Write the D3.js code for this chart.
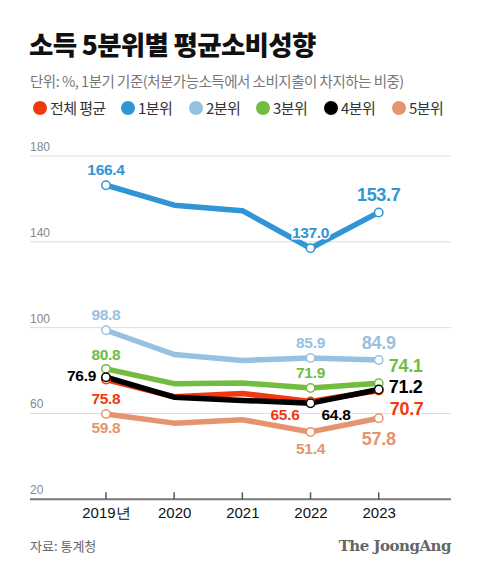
<!DOCTYPE html>
<html><head><meta charset="utf-8">
<script src="https://cdn.jsdelivr.net/npm/d3@7"></script>
<style>
body{margin:0;background:#fff;}
svg{display:block;}
</style></head>
<body>
<script>
const years = [2019, 2020, 2021, 2022, 2023];
const yearLabels = ["2019년", "2020", "2021", "2022", "2023"];
const yTicks = [20, 60, 100, 140, 180];
const seriesNames = ["전체 평균", "1분위", "2분위", "3분위", "4분위", "5분위"];
const seriesColors = ["#f2380f", "#2f95d6", "#97c1e0", "#72bd3f", "#000000", "#e6946f"];
const avgValues = [75.8, 67.8, 69.3, 65.6, 70.7];
const q1Values = [166.4, 157.1, 154.5, 137.0, 153.7];
const q2Values = [98.8, 87.5, 84.7, 85.9, 84.9];
const q3Values = [80.8, 73.9, 74.2, 71.9, 74.1];
const q4Values = [76.9, 67.6, 66.1, 64.8, 71.2];
const q5Values = [59.8, 55.5, 57.1, 51.4, 57.8];
const allValues = [avgValues, q1Values, q2Values, q3Values, q4Values, q5Values];
// label placement per series per point: [dx, dy, anchor] or null
const labelPos = [
  [[0, 20, "middle"], null, null, [-11, 14, "end"], [11, 19.5, "start"]],
  [[0, -14, "middle"], null, null, [0, -14, "middle"], [0, -16, "middle"]],
  [[0, -14, "middle"], null, null, [0, -14, "middle"], [0, -16, "middle"]],
  [[0, -13, "middle"], null, null, [0, -14, "middle"], [10, -16, "start"]],
  [[-10, 0, "end"], null, null, [11, 13, "start"], [10, -1, "start"]],
  [[0, 15, "middle"], null, null, [0, 18, "middle"], [0, 22, "middle"]]
];
const drawOrder = [5, 2, 1, 3, 0, 4];

const W = 480, H = 574;
const svg = d3.select("body").append("svg").attr("width", W).attr("height", H);

const x = d3.scaleLinear().domain([2017.886, 2024.06]).range([30, 451]);
const y = d3.scaleLinear().domain([20, 180]).range([499.3, 156]);

// title
svg.append("text").attr("x", 29).attr("y", 55)
  .style("font-family", "'Noto Sans CJK KR'").style("font-weight", 900)
  .style("font-size", "26.5px").style("letter-spacing", "-0.7px").attr("fill", "#111")
  .text("소득 5분위별 평균소비성향");
svg.append("text").attr("x", 30).attr("y", 87)
  .style("font-family", "'Noto Sans CJK KR'").style("font-size", "14.5px")
  .style("letter-spacing", "-0.5px").attr("fill", "#777")
  .text("단위: %, 1분기 기준(처분가능소득에서 소비지출이 차지하는 비중)");

// legend
const legX = [40, 128, 196, 263, 331, 399];
const leg = svg.append("g");
seriesNames.forEach((n, i) => {
  leg.append("circle").attr("cx", legX[i]).attr("cy", 108).attr("r", 7).attr("fill", seriesColors[i]);
  leg.append("text").attr("x", legX[i] + 10).attr("y", 113.5)
    .style("font-family", "'Noto Sans CJK KR'").style("font-size", "15px")
    .style("letter-spacing", "-0.6px").attr("fill", "#333").text(n);
});

// grid
const g = svg.append("g");
yTicks.forEach(t => {
  if (t !== 20) {
    g.append("line").attr("x1", 30).attr("x2", 451).attr("y1", y(t)).attr("y2", y(t))
      .attr("stroke", "#dcdcdc").attr("stroke-width", 1);
  }
  g.append("text").attr("x", 30).attr("y", y(t) - 5)
    .style("font-family", "'Liberation Sans', Arial").style("font-size", "12px")
    .attr("fill", "#888").text(t);
});

// x axis
const xAxis = d3.axisBottom(x).tickValues(years).tickSize(0).tickFormat((d, i) => yearLabels[i]);
const ax = svg.append("g").attr("transform", `translate(0,${y(20)})`).call(xAxis);
ax.select(".domain").remove();
ax.selectAll("text").attr("dy", null).attr("y", 19)
  .style("font-family", "'Liberation Sans', Arial").style("font-size", "15px")
  .attr("fill", "#111");
svg.append("line").attr("x1", 30).attr("x2", 451).attr("y1", y(20)).attr("y2", y(20))
  .attr("stroke", "#777").attr("stroke-width", 2);
years.forEach(yr => {
  svg.append("line").attr("x1", x(yr)).attr("x2", x(yr)).attr("y1", y(20) - 7).attr("y2", y(20))
    .attr("stroke", "#555").attr("stroke-width", 1.5);
});

// lines
const line = d3.line().x((d, i) => x(years[i])).y(d => y(d)).curve(d3.curveLinear);
drawOrder.forEach(si => {
  svg.append("path").datum(allValues[si]).attr("d", line)
    .attr("fill", "none").attr("stroke", seriesColors[si]).attr("stroke-width", 5.5)
    .attr("stroke-linejoin", "round").attr("stroke-linecap", "round");
});
// markers
drawOrder.forEach(si => {
  allValues[si].forEach((v, i) => {
    if (labelPos[si][i]) {
      svg.append("circle").attr("cx", x(years[i])).attr("cy", y(v)).attr("r", 4.2)
        .attr("fill", "#fff").attr("stroke", seriesColors[si]).attr("stroke-width", 1.5);
    }
  });
});
// labels
drawOrder.forEach(si => {
  allValues[si].forEach((v, i) => {
    const lp = labelPos[si][i];
    if (!lp) return;
    const last = i === years.length - 1;
    svg.append("text").attr("x", x(years[i]) + lp[0]).attr("y", y(v) + lp[1])
      .attr("text-anchor", lp[2]).attr("dominant-baseline", "middle")
      .style("font-family", "'Liberation Sans', Arial")
      .style("font-weight", 700)
      .style("font-size", last ? "18px" : "15.5px")
      .style("letter-spacing", "-0.3px")
      .attr("fill", seriesColors[si])
      .attr("stroke", "#fff").attr("stroke-width", 3).attr("paint-order", "stroke")
      .text(v.toFixed(1));
  });
});

// footer
svg.append("text").attr("x", 30).attr("y", 551)
  .style("font-family", "'Noto Sans CJK KR'").style("font-size", "13px")
  .attr("fill", "#666").text("자료: 통계청");
svg.append("text").attr("x", 451).attr("y", 551).attr("text-anchor", "end")
  .style("font-family", "'DejaVu Serif', 'Liberation Serif', serif").style("font-weight", 700)
  .style("font-size", "15px").style("letter-spacing", "-0.5px")
  .attr("fill", "#666").text("The JoongAng");
</script>
</body></html>
